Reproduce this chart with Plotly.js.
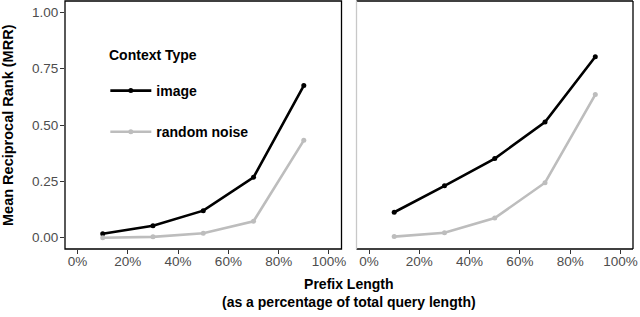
<!DOCTYPE html>
<html>
<head>
<meta charset="utf-8">
<script src="https://cdn.plot.ly/plotly-3.0.1.min.js"></script>
<style>
html,body{margin:0;padding:0;background:#fff;}
#chart{width:640px;height:317px;}
</style>
</head>
<body>
<div id="chart"></div>
<script>
// Data (prefix length in % of total query length; MRR)
const prefixLength = [10, 30, 50, 70, 90];
const seriesNames = ["image", "random noise"];
const leftImage  = [0.018, 0.053, 0.120, 0.268, 0.675];
const leftNoise  = [0.000, 0.004, 0.020, 0.073, 0.432];
const rightImage = [0.113, 0.230, 0.351, 0.513, 0.803];
const rightNoise = [0.005, 0.022, 0.087, 0.244, 0.635];
const xTickVals = [0, 20, 40, 60, 80, 100];
const xTickText = ["0%", "20%", "40%", "60%", "80%", "100%"];
const yTickVals = [0, 0.25, 0.5, 0.75, 1];
const yTickText = ["0.00", "0.25", "0.50", "0.75", "1.00"];
const legendTitle = "Context Type";

const FONT = "'Liberation Sans', Arial, Helvetica, sans-serif";
const BLACK = "#000000";
const GREY = "#bdbdbd";

function trace(x, y, name, color, xa, show) {
  return {
    x: x, y: y, name: name, type: "scatter", mode: "lines+markers",
    xaxis: xa, yaxis: "y",
    line: {color: color, width: 2.6},
    marker: {color: color, size: 5},
    showlegend: show, legendgroup: name,
    hoverinfo: "skip"
  };
}

const data = [
  trace(prefixLength, leftImage, seriesNames[0], BLACK, "x", true),
  trace(prefixLength, leftNoise, seriesNames[1], GREY, "x", true),
  trace(prefixLength, rightImage, seriesNames[0], BLACK, "x2", false),
  trace(prefixLength, rightNoise, seriesNames[1], GREY, "x2", false)
];

const xCommon = {
  range: [-5, 105], tickmode: "array", tickvals: xTickVals, ticktext: xTickText,
  ticks: "outside", ticklen: 4, tickwidth: 1, tickcolor: "#333",
  ticklabelstandoff: -4,
  showgrid: false, zeroline: false, showline: false,
  tickfont: {family: FONT, size: 13.5, color: "#4d4d4d"},
  fixedrange: true
};

const layout = {
  width: 640, height: 317,
  margin: {l: 65, r: 7, t: 1, b: 68, pad: 0},
  paper_bgcolor: "#fff", plot_bgcolor: "#fff",
  font: {family: FONT, color: "#000"},
  xaxis: Object.assign({}, xCommon, {domain: [0, 0.4868], anchor: "y"}),
  xaxis2: Object.assign({}, xCommon, {domain: [0.5132, 1], anchor: "y"}),
  yaxis: {
    range: [-0.05, 1.05], tickmode: "array", tickvals: yTickVals, ticktext: yTickText,
    ticks: "outside", ticklen: 4, tickwidth: 1, tickcolor: "#333",
    ticklabelstandoff: -1,
    showgrid: false, zeroline: false, showline: false,
    tickfont: {family: FONT, size: 13.5, color: "#4d4d4d"},
    anchor: "x", fixedrange: true
  },
  showlegend: true,
  legend: {
    x: 0.071, y: 0.7016, xanchor: "left", yanchor: "top",
    bgcolor: "rgba(0,0,0,0)", borderwidth: 0,
    traceorder: "grouped", tracegroupgap: 20,
    itemwidth: 41,
    font: {family: FONT, size: 14, color: "#000", weight: "bold"}
  },
  shapes: [
    {type: "rect", xref: "x domain", yref: "y domain", x0: 0, x1: 1, y0: 0, y1: 1,
     line: {color: "#000", width: 1.3}},
    {type: "line", xref: "x2 domain", yref: "y domain", x0: 0, x1: 1, y0: 1, y1: 1,
     line: {color: "#000", width: 1.3}},
    {type: "line", xref: "x2 domain", yref: "y domain", x0: 1, x1: 1, y0: 0, y1: 1,
     line: {color: "#000", width: 1.3}},
    {type: "line", xref: "x2 domain", yref: "y domain", x0: 0, x1: 1, y0: 0, y1: 0,
     line: {color: "#000", width: 1.3}},
    {type: "line", xref: "x2 domain", yref: "y domain", x0: 0, x1: 0, y0: 0, y1: 1,
     line: {color: "#c8c8c8", width: 1.3}}
  ],
  annotations: [
    {text: "<b>" + legendTitle + "</b>",
     xref: "paper", yref: "paper", x: 0.0734, y: 0.782, xanchor: "left", yanchor: "middle",
     showarrow: false, font: {family: FONT, size: 14, color: "#000"}},
    {text: "<b>Prefix Length</b><br><b>(as a percentage of total query length)</b>",
     xref: "paper", yref: "paper", x: 0.5, y: -0.099, xanchor: "center", yanchor: "top",
     showarrow: false, align: "center",
     font: {family: FONT, size: 14, color: "#000"}},
    {text: "<b>Mean Reciprocal Rank (MRR)</b>",
     xref: "paper", yref: "paper", x: -0.1004, y: 0.5, xanchor: "center", yanchor: "middle",
     textangle: -90, showarrow: false,
     font: {family: FONT, size: 14.5, color: "#000"}}
  ]
};

Plotly.newPlot("chart", data, layout, {displayModeBar: false, staticPlot: true});
</script>
</body>
</html>
